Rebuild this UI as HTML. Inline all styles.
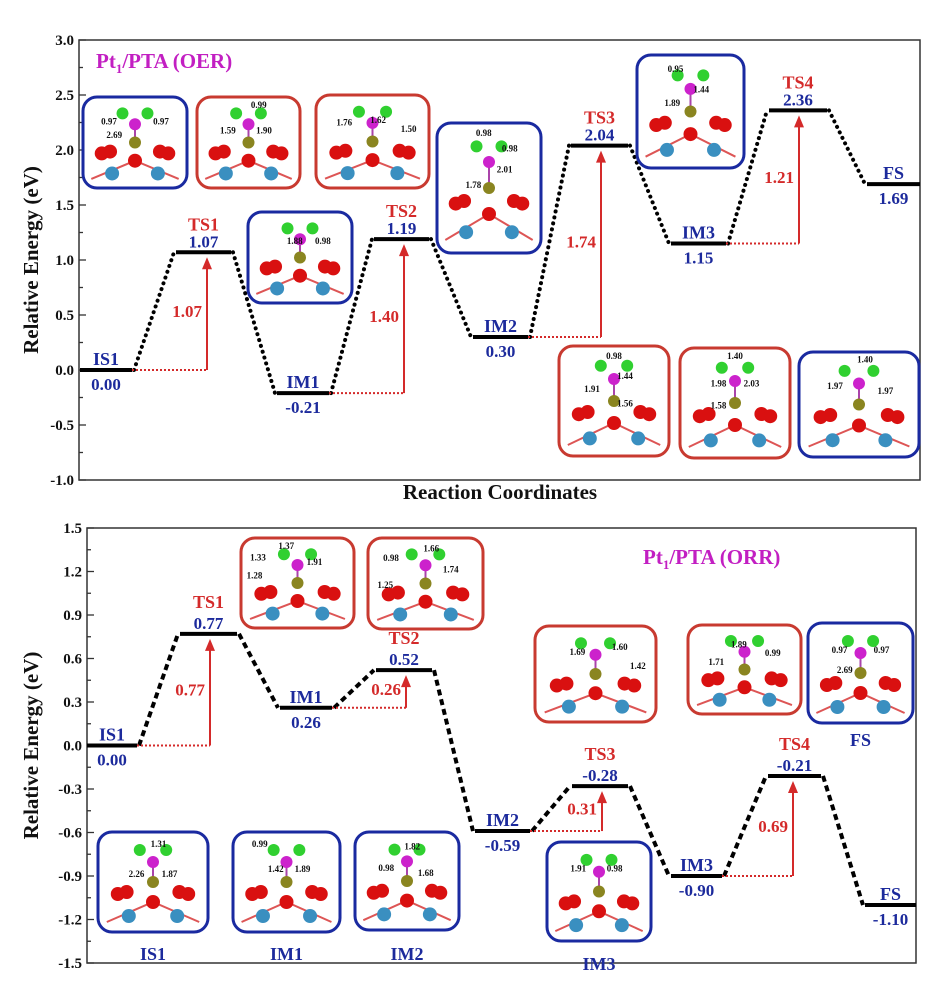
<!DOCTYPE html>
<html><head><meta charset="utf-8">
<style>
html,body{margin:0;padding:0;background:#fff;}
svg{display:block;font-family:"Liberation Serif",serif;font-weight:bold;}
</style></head>
<body>
<svg id="fig" width="936" height="984" viewBox="0 0 936 984" xmlns="http://www.w3.org/2000/svg"></svg>
<script>
// ---- data: OER (top) ----
const oerStates = ["IS1","TS1","IM1","TS2","IM2","TS3","IM3","TS4","FS"];
const oerEnergies = [0.00,1.07,-0.21,1.19,0.30,2.04,1.15,2.36,1.69];
const oerBarrierLabels = ["1.07","1.40","1.74","1.21"];
const oerYTicks = ["3.0","2.5","2.0","1.5","1.0","0.5","0.0","-0.5","-1.0"];
const oerYTickValues = [3.0,2.5,2.0,1.5,1.0,0.5,0.0,-0.5,-1.0];
// ---- data: ORR (bottom) ----
const orrStates = ["IS1","TS1","IM1","TS2","IM2","TS3","IM3","TS4","FS"];
const orrEnergies = [0.00,0.77,0.26,0.52,-0.59,-0.28,-0.90,-0.21,-1.10];
const orrBarrierLabels = ["0.77","0.26","0.31","0.69"];
const orrYTicks = ["1.5","1.2","0.9","0.6","0.3","0.0","-0.3","-0.6","-0.9","-1.2","-1.5"];
const orrYTickValues = [1.5,1.2,0.9,0.6,0.3,0.0,-0.3,-0.6,-0.9,-1.2,-1.5];

const NS="http://www.w3.org/2000/svg";
const svg=document.getElementById('fig');
function el(tag,attrs,parent,text){
  const e=document.createElementNS(NS,tag);
  for(const k in attrs) e.setAttribute(k,attrs[k]);
  if(text!==undefined) e.textContent=text;
  (parent||svg).appendChild(e);
  return e;
}
const BLUE="#1c2a9c", RED="#d42a2a", MAG="#c21fc2";

const panels=[
 {key:"oer",states:oerStates,en:oerEnergies,bl:oerBarrierLabels,ticks:oerYTicks,tv:oerYTickValues,
  x0:79,x1:920,y0:40,y1:480,ymax:3.0,ymin:-1.0,minor:0.25,tsOff:22,
  starts:[80,176,277,374,473,571,671,769,867],w:[52,55,52,55,55,57,55,58,53],
  arrowX:[207,404,601,799],dash:"0.1 6",lw:4,cap:"round"},
 {key:"orr",states:orrStates,en:orrEnergies,bl:orrBarrierLabels,ticks:orrYTicks,tv:orrYTickValues,
  x0:87,x1:916,y0:528,y1:963,ymax:1.5,ymin:-1.5,minor:0.15,tsOff:26,
  starts:[87,180,280,376,475,572,671,768,865],w:[50,57,52,56,55,56,51,53,51],
  arrowX:[210,406,602,793],dash:"6 4",lw:4,cap:"butt"}
];

panels.forEach(p=>{
  const g=el('g',{});
  
  
  const y=v=>p.y0+(p.ymax-v)/(p.ymax-p.ymin)*(p.y1-p.y0);
  const fr=el('rect',{x:p.x0,y:p.y0,width:p.x1-p.x0,height:p.y1-p.y0,fill:'none',stroke:'#333','stroke-width':1.5},g);
  
  
  for(let v=p.ymin;v<=p.ymax+1e-6;v+=p.minor){
    const yy=y(v);
    const major=p.tv.some(t=>Math.abs(t-v)<1e-6);
    el('line',{x1:p.x0,x2:p.x0+(major?7:4),y1:yy,y2:yy,stroke:'#333','stroke-width':1.3},g);
  }
  p.ticks.forEach((t,i)=>{
    const tx=el('text',{x:p.x0-5,y:y(p.tv[i])+5,'text-anchor':'end','font-size':15,fill:'#111'},g,t);
    
    
  });
  const cy=(p.y0+p.y1)/2;
  const yt=el('text',{x:38,y:cy,'text-anchor':'middle','font-size':21,fill:'#111',transform:`rotate(-90 38 ${cy})`},g,'Relative Energy (eV)');
  
  
  for(let i=0;i<p.states.length-1;i++){
    const c=el('line',{x1:p.starts[i]+p.w[i]+2,y1:y(p.en[i]),x2:p.starts[i+1]-2,y2:y(p.en[i+1]),stroke:'#000','stroke-width':p.lw,'stroke-dasharray':p.dash,'stroke-linecap':p.cap},g);
    
    
  }
  p.states.forEach((s,i)=>{
    const yy=y(p.en[i]);
    const xs=p.starts[i], xe=xs+p.w[i], xm=(xs+xe)/2;
    const l=el('line',{x1:xs,x2:xe,y1:yy,y2:yy,stroke:'#000','stroke-width':4},g);
    
    
    const isTS=s.startsWith('TS');
    const nm=el('text',{x:xm,y:isTS?yy-p.tsOff:yy-5,'text-anchor':'middle','font-size':18,fill:isTS?RED:BLUE},g,s);
    
    
    const vv=el('text',{x:xm,y:isTS?yy-5:yy+20,'text-anchor':'middle','font-size':17,fill:BLUE},g,p.en[i].toFixed(2));
    
    
  });
  for(let k=0;k<4;k++){
    const ts=2*k+1, prev=2*k;
    const ax=p.arrowX[k];
    const yl=y(p.en[prev]), yh=y(p.en[ts]);
    const d=el('line',{x1:p.starts[prev]+p.w[prev],x2:ax,y1:yl,y2:yl,stroke:RED,'stroke-width':2,'stroke-dasharray':'2 2'},g);
    
    
    const a=el('line',{x1:ax,x2:ax,y1:yl,y2:yh+16,stroke:RED,'stroke-width':2},g);
    
    
    el('polygon',{points:`${ax-5},${yh+17} ${ax+5},${yh+17} ${ax},${yh+5}`,fill:RED},g);
    const bt=el('text',{x:ax-5,y:(yl+yh)/2+6,'text-anchor':'end','font-size':17,fill:RED},g,p.bl[k]);
    
    
  }
});

let t=el('text',{x:96,y:68,'font-size':21,fill:MAG});


t.innerHTML='Pt<tspan font-size="13" dy="5">1</tspan><tspan dy="-5">/PTA (OER)</tspan>';
t=el('text',{x:643,y:564,'font-size':21,fill:MAG});


t.innerHTML='Pt<tspan font-size="13" dy="5">1</tspan><tspan dy="-5">/PTA (ORR)</tspan>';
t=el('text',{x:500,y:499,'text-anchor':'middle','font-size':21,fill:'#111'},svg,'Reaction Coordinates');



function inset(x,y,w,h,col,labels,name,caption){
  const g=el('g',{});
  
  
  el('rect',{x:x,y:y,width:w,height:h,rx:14,fill:'#fff',stroke:col,'stroke-width':3},g);
  const A=(fx,fy,c,r)=>el('circle',{cx:x+fx*w,cy:y+fy*h,r:r||6,fill:c},g);
  el('path',{d:`M${x+0.08*w},${y+0.9*h} L${x+0.5*w},${y+0.7*h} L${x+0.92*w},${y+0.9*h}`,stroke:'#d55',fill:'none','stroke-width':2},g);
  el('line',{x1:x+0.5*w,y1:y+0.5*h,x2:x+0.5*w,y2:y+0.3*h,stroke:'#a4a','stroke-width':2},g);
  A(0.28,0.84,'#3a8fc0',7);A(0.72,0.84,'#3a8fc0',7);
  A(0.18,0.62,'#d91010',7);A(0.26,0.6,'#d91010',7);A(0.5,0.7,'#d91010',7);
  A(0.74,0.6,'#d91010',7);A(0.82,0.62,'#d91010',7);
  A(0.5,0.5,'#8a8520',6);
  A(0.5,0.3,'#cc22cc',6);A(0.38,0.18,'#30d030',6);A(0.62,0.18,'#30d030',6);
  labels.forEach(L=>el('text',{x:x+L[1]*w,y:y+L[2]*h,'font-size':9,fill:'#111','text-anchor':'middle'},g,L[0]));
  if(caption) el('text',{x:x+w/2,y:caption[1],'text-anchor':'middle','font-size':18,fill:caption[2]},g,caption[0]);
}
inset(83,97,104,91,'#1a2aa0',[["0.97",0.25,0.3],["0.97",0.75,0.3],["2.69",0.3,0.45]],'oer-inset-is1');
inset(197,97,103,91,'#c83a30',[["0.99",0.6,0.12],["1.59",0.3,0.4],["1.90",0.65,0.4]],'oer-inset-ts1');
inset(316,95,113,93,'#c83a30',[["1.76",0.25,0.33],["1.62",0.55,0.3],["1.50",0.82,0.4]],'oer-inset-ts2');
inset(248,212,104,91,'#1a2aa0',[["1.88",0.45,0.35],["0.98",0.72,0.35]],'oer-inset-im1');
inset(437,123,104,130,'#1a2aa0',[["0.98",0.45,0.1],["0.98",0.7,0.22],["2.01",0.65,0.38],["1.78",0.35,0.5]],'oer-inset-im2');
inset(637,55,107,113,'#1a2aa0',[["0.95",0.36,0.15],["1.44",0.6,0.33],["1.89",0.33,0.45]],'oer-inset-im3');
inset(559,346,110,110,'#c83a30',[["0.98",0.5,0.12],["1.44",0.6,0.3],["1.91",0.3,0.42],["1.56",0.6,0.55]],'oer-inset-ts3');
inset(680,348,110,110,'#c83a30',[["1.40",0.5,0.1],["1.98",0.35,0.35],["2.03",0.65,0.35],["1.58",0.35,0.55]],'oer-inset-ts4');
inset(799,352,120,105,'#1a2aa0',[["1.40",0.55,0.1],["1.97",0.3,0.35],["1.97",0.72,0.4]],'oer-inset-fs');
inset(98,832,110,100,'#1a2aa0',[["1.31",0.55,0.15],["2.26",0.35,0.45],["1.87",0.65,0.45]],'orr-inset-is1',["IS1",960,BLUE]);
inset(233,832,107,100,'#1a2aa0',[["0.99",0.25,0.15],["1.42",0.4,0.4],["1.89",0.65,0.4]],'orr-inset-im1',["IM1",960,BLUE]);
inset(355,832,104,98,'#1a2aa0',[["1.82",0.55,0.18],["0.98",0.3,0.4],["1.68",0.68,0.45]],'orr-inset-im2',["IM2",960,BLUE]);
inset(547,842,104,99,'#1a2aa0',[["1.91",0.3,0.3],["0.98",0.65,0.3]],'orr-inset-im3',["IM3",970,BLUE]);
inset(241,538,113,90,'#c83a30',[["1.37",0.4,0.12],["1.33",0.15,0.25],["1.28",0.12,0.45],["1.91",0.65,0.3]],'orr-inset-ts1');
inset(368,538,115,91,'#c83a30',[["0.98",0.2,0.25],["1.66",0.55,0.15],["1.74",0.72,0.38],["1.25",0.15,0.55]],'orr-inset-ts2');
inset(535,626,121,96,'#c83a30',[["1.69",0.35,0.3],["1.60",0.7,0.25],["1.42",0.85,0.45]],'orr-inset-ts3');
inset(688,625,113,89,'#c83a30',[["1.89",0.45,0.25],["0.99",0.75,0.35],["1.71",0.25,0.45]],'orr-inset-ts4');
inset(808,623,105,100,'#1a2aa0',[["0.97",0.3,0.3],["0.97",0.7,0.3],["2.69",0.35,0.5]],'orr-inset-fs',["FS",746,BLUE]);
</script>
</body></html>
